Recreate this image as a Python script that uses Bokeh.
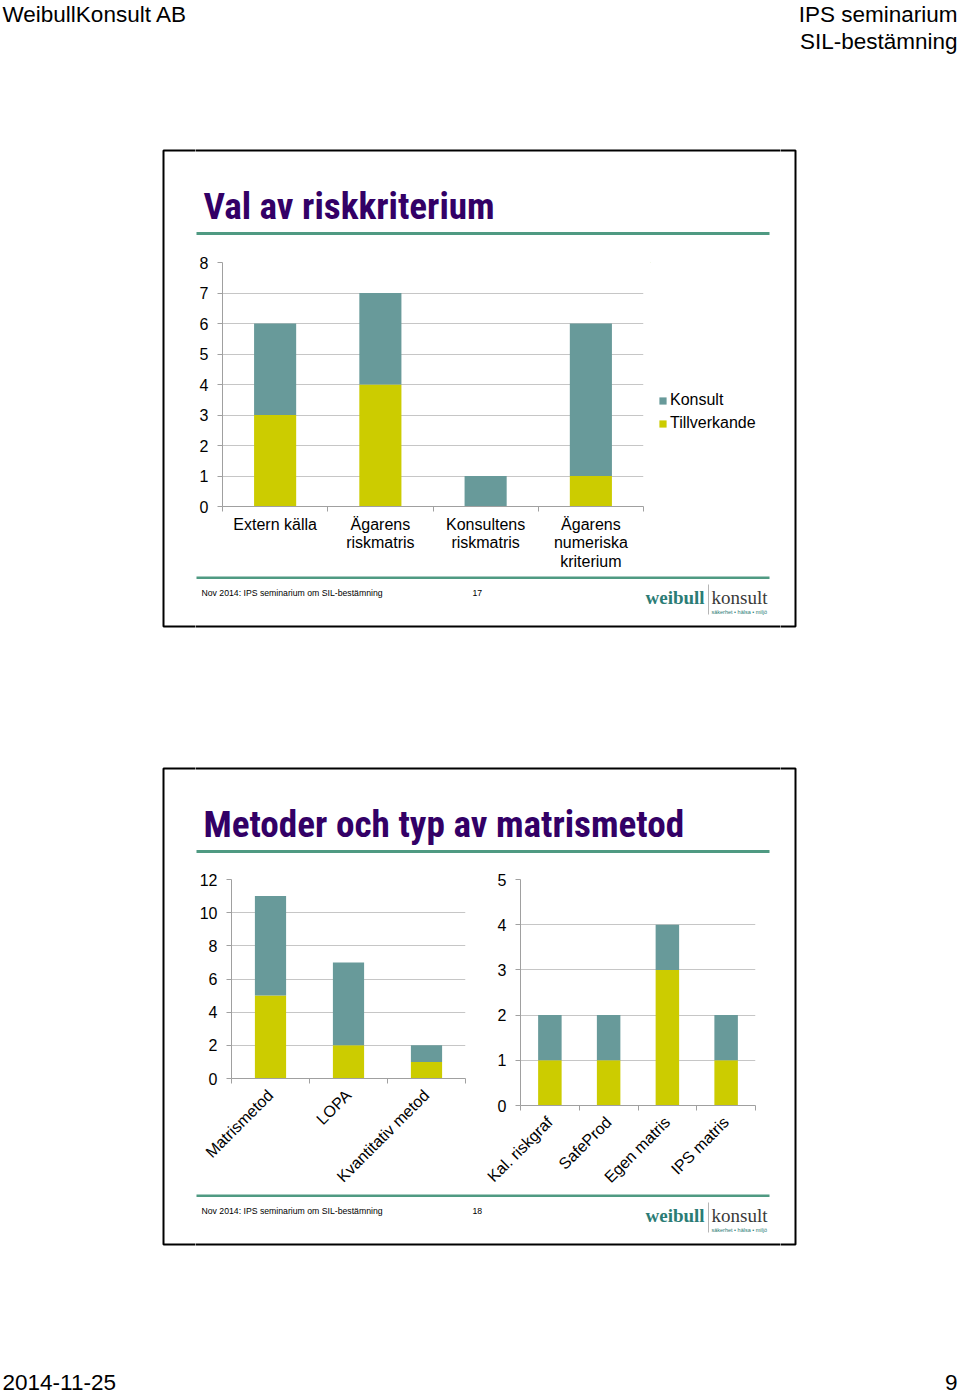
import math
from bokeh.plotting import figure
from bokeh.models import (Range1d, LinearAxis, FixedTicker, CustomJSTickFormatter,
                          Legend, LegendItem, ColumnDataSource)
from bokeh.layouts import column, row
from bokeh.embed import file_html
from bokeh.resources import INLINE
from bokeh.core.properties import value

# ---------------- data ----------------
series = ["Tillverkande", "Konsult"]
legend_order = ["Konsult", "Tillverkande"]

s1_cats = ["Extern källa", "Ägarens\nriskmatris", "Konsultens\nriskmatris", "Ägarens\nnumeriska\nkriterium"]
s1_tillverkande = [3, 4, 0, 1]
s1_konsult = [3, 3, 1, 5]
s1_yticks = [0, 1, 2, 3, 4, 5, 6, 7, 8]

s2a_cats = ["Matrismetod", "LOPA", "Kvantitativ metod"]
s2a_tillverkande = [5, 2, 1]
s2a_konsult = [6, 5, 1]
s2a_yticks = [0, 2, 4, 6, 8, 10, 12]

s2b_cats = ["Kal. riskgraf", "SafeProd", "Egen matris", "IPS matris"]
s2b_tillverkande = [1, 1, 3, 1]
s2b_konsult = [1, 1, 1, 1]
s2b_yticks = [0, 1, 2, 3, 4, 5]

header_left = "WeibullKonsult AB"
header_right = ["IPS seminarium", "SIL-bestämning"]
slide_titles = ["Val av riskkriterium", "Metoder och typ av matrismetod"]
footer_text = "Nov 2014: IPS seminarium om SIL-bestämning"
slide_numbers = ["17", "18"]
logo_a, logo_b, logo_tag = "weibull", "konsult", "säkerhet • hälsa • miljö"
page_date = "2014-11-25"
page_number = "9"

# ---------------- style ----------------
TEAL = "#689A9A"
YELLOW = "#CCCC00"
SERIES_COLORS = {"Tillverkande": YELLOW, "Konsult": TEAL}
GRID = "#C6C6C6"
AXIS = "#A0A0A0"
RULE = "#4F9A82"
TITLE = "#330066"
FONT = "Liberation Sans"
SERIF = "Liberation Serif"
TITLE_FONT = "Roboto Condensed"

PAGE_H = 1394
COL_L, COL_R = 195, 780          # middle column spans x 195..780
SLIDE_TOPS = [150, 768]
SLIDE_H = 476
SLIDE_L, SLIDE_R = 163, 795


def deco_tile(x0, x1, y0, y1, mb_top=0, mb_bottom=0, frame_y=None):
    fy0, fy1 = frame_y if frame_y else (y0, y1)
    p = figure(width=x1 - x0, height=y1 - y0,
               x_range=Range1d(x0, x1), y_range=Range1d(fy1, fy0),
               x_axis_type=None, y_axis_type=None,
               toolbar_location=None, output_backend="svg", min_border=0,
               min_border_top=mb_top, min_border_bottom=mb_bottom)
    p.outline_line_color = None
    p.background_fill_color = "white"
    p.border_fill_color = "white"
    for top in SLIDE_TOPS:
        dy = top - SLIDE_TOPS[0]
        p.quad(left=[SLIDE_L], right=[SLIDE_R], top=[top], bottom=[top + SLIDE_H],
               fill_color=None, line_color="black", line_width=2)
        p.segment(x0=[196, 196], y0=[233 + dy, 577 + dy], x1=[769, 769], y1=[233 + dy, 577 + dy],
                  line_color=RULE, line_width=3)
        p.segment(x0=[708], y0=[584 + dy], x1=[708], y1=[614 + dy],
                  line_color="#B5B5B5", line_width=1)
    return p


def txt(p, x, y, s, size, font=FONT, style="normal", color="black", align="left"):
    p.text(x=[x], y=[y], text=[s], text_font=value(font), text_font_size=size,
           text_font_style=style, text_color=color, text_align=align,
           text_baseline="middle")


def slide_footer(p, i):
    dy = SLIDE_TOPS[i] - SLIDE_TOPS[0]
    txt(p, 201, 592 + dy, footer_text, "8.7px")
    txt(p, 472, 592 + dy, slide_numbers[i], "8.7px")
    txt(p, 645, 596.5 + dy, logo_a, "19px", font=SERIF, style="bold", color="#2B7C75")
    txt(p, 711, 596.5 + dy, logo_b, "19px", font=SERIF, color="#3A3A3A")
    txt(p, 711, 611 + dy, logo_tag, "5.5px", color="#2B7C75")


def slide_title(p, i):
    dy = SLIDE_TOPS[i] - SLIDE_TOPS[0]
    txt(p, 203, 205 + dy, slide_titles[i], "37.2px", font=TITLE_FONT, style="bold", color=TITLE)


def chart(cats, bottom, top, yticks, box, frame, rotate=False):
    x0, x1, y0, y1 = box
    fl, fr, ft, fb = frame
    n = len(cats)
    xpos = [i + 0.5 for i in range(n)]
    src = ColumnDataSource(dict(x=xpos, cat=cats, Tillverkande=bottom, Konsult=top))
    p = figure(x_range=Range1d(0, n), y_range=Range1d(yticks[0], yticks[-1]),
               width=x1 - x0, height=y1 - y0, x_axis_location=None,
               toolbar_location=None, output_backend="svg",
               min_border_left=fl - x0, min_border_right=x1 - fr,
               min_border_top=ft - y0, min_border_bottom=y1 - fb)
    p.outline_line_color = None
    p.background_fill_color = "white"
    p.border_fill_color = "white"
    p.xgrid.visible = False

    yax = p.yaxis[0]
    yax.ticker = FixedTicker(ticks=yticks, minor_ticks=[])
    yax.axis_line_color = AXIS
    yax.major_tick_line_color = AXIS
    yax.major_tick_out = 5
    yax.major_tick_in = 0
    yax.minor_tick_line_color = None
    yax.major_label_standoff = 9
    yax.major_label_text_font = FONT
    yax.major_label_text_font_size = "16px"
    yax.major_label_text_color = "black"
    p.ygrid.grid_line_color = GRID

    tick_axis = LinearAxis(ticker=FixedTicker(ticks=list(range(n + 1)), minor_ticks=[]),
                           formatter=CustomJSTickFormatter(code="return ''"),
                           axis_line_color=AXIS, major_tick_line_color=AXIS,
                           major_tick_out=5, major_tick_in=0,
                           minor_tick_line_color=None,
                           major_label_text_font_size="0px", major_label_standoff=0)
    p.add_layout(tick_axis, "below")
    lab_axis = LinearAxis(ticker=FixedTicker(ticks=xpos, minor_ticks=[]),
                          formatter=CustomJSTickFormatter(args=dict(names=cats),
                                                          code="return names[Math.floor(tick)]"),
                          axis_line_color=None, major_tick_line_color=None,
                          minor_tick_line_color=None, major_tick_out=0, major_tick_in=0,
                          major_label_standoff=9 if rotate else 4,
                          major_label_text_font=FONT, major_label_text_font_size="16px",
                          major_label_text_line_height=1.1,
                          major_label_text_color="black")
    if rotate:
        lab_axis.major_label_orientation = math.pi / 4
    p.add_layout(lab_axis, "below")

    p.vbar_stack(series, x="x", width=0.4, source=src,
                 fill_color=[SERIES_COLORS[s] for s in series], line_color=None)
    return p


def legend_tile(box, frame, left, bottom):
    x0, x1, y0, y1 = box
    ft, fb = frame
    p = deco_tile(x0, x1, y0, y1, mb_top=ft - y0, mb_bottom=y1 - fb, frame_y=(ft, fb))
    items = []
    for name in legend_order:
        r = p.vbar(x=[-1000], top=[0], bottom=[0], width=1,
                   fill_color=SERIES_COLORS[name], line_color=None)
        items.append(LegendItem(label=name, renderers=[r]))
    leg = Legend(items=items, location=(left - x0, fb - bottom),
                 glyph_width=9, glyph_height=9, label_height=20, spacing=3,
                 label_standoff=3, padding=0, margin=0,
                 border_line_color=None, background_fill_alpha=0,
                 label_text_font=FONT, label_text_font_size="16px",
                 label_text_color="black")
    p.add_layout(leg)
    return p


# ---------------- left / right page strips ----------------
L = deco_tile(0, COL_L, 0, PAGE_H)
txt(L, 2, 13.5, header_left, "22.5px")
txt(L, 2, 1382, page_date, "22.5px")

R = deco_tile(COL_R, 960, 0, PAGE_H)
txt(R, 957, 13.5, header_right[0], "22.5px", align="right")
txt(R, 957, 40.5, header_right[1], "22.5px", align="right")
txt(R, 957, 1382, page_number, "22.5px", align="right")

# ---------------- middle column ----------------
A = deco_tile(COL_L, COL_R, 0, 252)
slide_title(A, 0)

ch1 = chart(s1_cats, s1_tillverkande, s1_konsult, s1_yticks,
            (COL_L, 650, 252, 576), (222, 643, 262, 506))
LG = legend_tile((650, COL_R, 252, 576), (262, 506), 658, 433)
row1 = row(ch1, LG)

C = deco_tile(COL_L, COL_R, 576, 868)
slide_footer(C, 0)
slide_title(C, 1)

ch2a = chart(s2a_cats, s2a_tillverkande, s2a_konsult, s2a_yticks,
             (COL_L, 480, 868, 1194), (231, 465, 879, 1079), rotate=True)
ch2b = chart(s2b_cats, s2b_tillverkande, s2b_konsult, s2b_yticks,
             (480, COL_R, 868, 1194), (520, 755, 879, 1105), rotate=True)
row2 = row(column(ch2a), column(ch2b))

E = deco_tile(COL_L, COL_R, 1194, PAGE_H)
slide_footer(E, 1)

middle = column(A, row1, C, row2, E)
layout = row(L, middle, R)

with open("out.html", "w", encoding="utf-8") as f:
    f.write(file_html(layout, INLINE, title="IPS seminarium"))
